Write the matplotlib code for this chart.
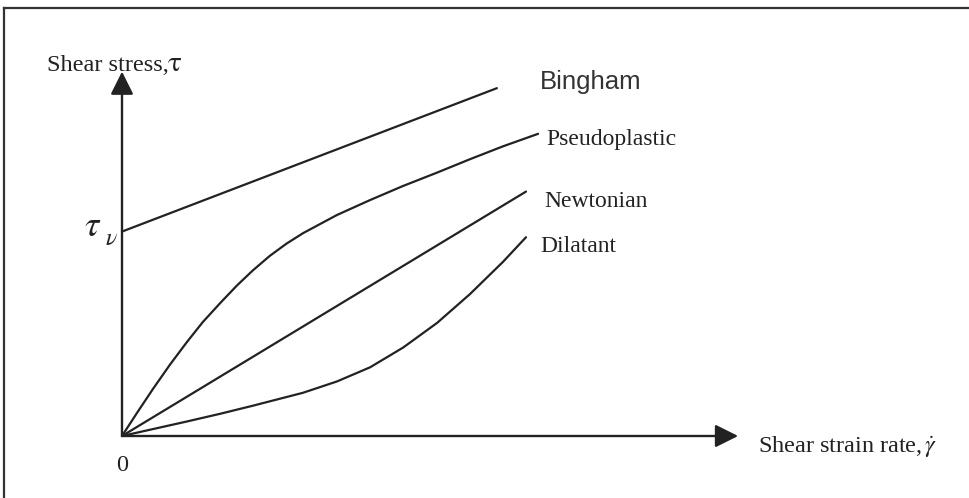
import numpy as np
import matplotlib.pyplot as plt
from matplotlib.lines import Line2D

plt.rcParams['mathtext.fontset'] = 'stix'

# shear strain rate / shear stress, arbitrary units
newton_x = [0.0, 10.0]
newton_y = [0.0, 6.05]

pseudo_x = [0.0, 0.37, 0.77, 1.19, 1.61, 2.00, 2.43, 2.85, 3.24, 3.66, 4.07, 4.48,
            5.32, 6.14, 6.96, 7.80, 8.61, 9.43, 10.30]
pseudo_y = [0.0, 0.57, 1.17, 1.77, 2.33, 2.82, 3.29, 3.73, 4.10, 4.46, 4.76, 5.02,
            5.47, 5.84, 6.19, 6.52, 6.85, 7.17, 7.48]

dilat_x = [0.0, 1.61, 2.43, 3.24, 4.48, 5.32, 6.14, 6.96, 7.80, 8.61, 9.43, 10.0]
dilat_y = [0.0, 0.36, 0.55, 0.75, 1.07, 1.35, 1.70, 2.19, 2.80, 3.51, 4.31, 4.92]

tau_y = 5.06
bingham_x = [0.0, 9.28]
bingham_y = [tau_y, 8.61]

labels = ['Bingham', 'Pseudoplastic', 'Newtonian', 'Dilatant']
label_pos = [(10.35, 8.6), (10.5, 7.2), (10.45, 5.67), (10.35, 4.55)]

ink = '#222222'
px = 40.4  # pixels per data unit

fig = plt.figure(figsize=(9.7, 4.98), dpi=100)
ax = fig.add_axes([0, 0, 1, 1])
ax.set_xlim(-122 / px, (970 - 122) / px)
ax.set_ylim(-(498 - 436) / px, 436 / px)
ax.axis('off')

# outer frame (left and top edges only)
fig.add_artist(Line2D([4 / 970, 4 / 970], [0, 1 - 8 / 498], transform=fig.transFigure,
                      color='#333333', lw=1.6))
fig.add_artist(Line2D([4 / 970, 1], [1 - 8 / 498, 1 - 8 / 498], transform=fig.transFigure,
                      color='#333333', lw=1.6))

# axes with arrow heads
arrow = dict(arrowstyle='-|>,head_length=1.0,head_width=0.5', mutation_scale=14,
             lw=1.7, color=ink, shrinkA=0, shrinkB=0)
ax.annotate('', xy=(0, 9.02), xytext=(0, 0), arrowprops=arrow)
ax.annotate('', xy=(15.25, 0), xytext=(0, 0), arrowprops=arrow)

for xs, ys in [(bingham_x, bingham_y), (pseudo_x, pseudo_y),
               (newton_x, newton_y), (dilat_x, dilat_y)]:
    ax.plot(xs, ys, color=ink, lw=1.6, solid_capstyle='round', solid_joinstyle='round')

serif = 'Liberation Serif'
ax.text(label_pos[0][0], label_pos[0][1], labels[0], family='Liberation Sans',
        fontsize=18.5, color='#333333', va='baseline', ha='left')
for lab, (lx, ly) in zip(labels[1:], label_pos[1:]):
    ax.text(lx, ly, lab, family=serif, fontsize=17, color=ink, va='baseline', ha='left')

ax.text(-1.86, 9.03, 'Shear stress,', family=serif, fontsize=17.5,
        color=ink, va='baseline', ha='left')
ax.text(1.12, 9.03, r'$\mathrm{\tau}$', fontsize=21, color=ink, va='baseline', ha='left')
ax.text(15.75, -0.42, r'Shear strain rate,$\,\dot{\gamma}$', family=serif, fontsize=17.5,
        color=ink, va='baseline', ha='left')
ax.text(0, -0.72, '0', family=serif, fontsize=17.5, color=ink, va='center', ha='center')

# yield stress label on the stress axis
ax.text(-0.95, tau_y - 0.12, r'$\tau$', fontsize=26, color=ink, va='baseline', ha='left')
ax.text(-0.42, tau_y - 0.32, r'$\nu$', fontsize=17, color=ink, va='baseline', ha='left')

fig.savefig('out.png', dpi=100)
